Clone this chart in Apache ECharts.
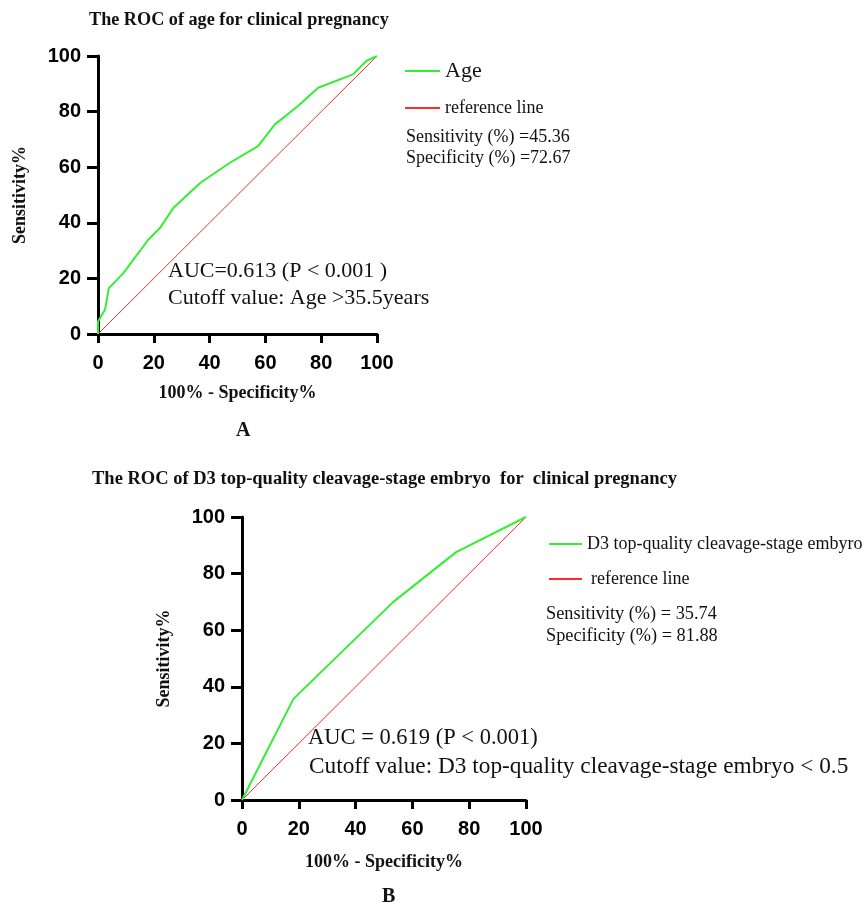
<!DOCTYPE html>
<html>
<head>
<meta charset="utf-8">
<script src="https://cdn.jsdelivr.net/npm/echarts@6/dist/echarts.min.js"></script>
<style>
  html, body { margin: 0; padding: 0; background: #fff; }
  #chart { width: 867px; height: 904px; }
</style>
</head>
<body>
<div id="chart"></div>
<script>
// ROC curve A: age (x = 100% - specificity, y = sensitivity)
const ageFpr = [0, 0, 2.5, 3.9, 9.1, 18, 22.2, 27, 36.6, 47.3, 57.4, 63.4, 71.7, 78.9, 91.4, 96.2, 100];
const ageSens = [0, 4.5, 8.7, 16.5, 21.9, 33.9, 38.1, 45.3, 54.3, 61.6, 67.6, 75.4, 82, 88.6, 93.4, 98.2, 100];

// ROC curve B: D3 top-quality cleavage-stage embryo
const d3Fpr = [0, 18.12, 53.3, 75.4, 100];
const d3Sens = [0, 35.74, 70, 87.6, 100];

// diagonal reference line
const refX = [0, 100];
const refY = [0, 100];

const serif = '"Liberation Serif", "Times New Roman", serif';
const sans = '"Liberation Sans", Arial, sans-serif';
const green = '#33ee33';
const red = '#ff2a2a';

const pairs = (xs, ys) => xs.map((x, i) => [x, ys[i]]);

function xAxisFor(gridIndex, gap) {
  return {
    gridIndex,
    type: 'value',
    min: 0, max: 100, interval: 20,
    name: '100% - Specificity%',
    nameLocation: 'middle',
    nameGap: gap,
    nameTextStyle: { fontFamily: serif, fontWeight: 'bold', fontSize: 18, color: '#111' },
    axisLine: { lineStyle: { color: '#000', width: 3 } },
    axisTick: { length: 9, lineStyle: { color: '#000', width: 3 } },
    axisLabel: { fontFamily: sans, fontWeight: 'bold', fontSize: 20, color: '#000', margin: 19 },
    splitLine: { show: false }
  };
}

function yAxisFor(gridIndex) {
  return {
    gridIndex,
    type: 'value',
    min: 0, max: 100, interval: 20,
    name: 'Sensitivity%',
    nameLocation: 'middle',
    nameGap: 69,
    nameTextStyle: { fontFamily: serif, fontWeight: 'bold', fontSize: 18, color: '#111' },
    axisLine: { show: true, lineStyle: { color: '#000', width: 3 } },
    axisTick: { show: true, length: 11, lineStyle: { color: '#000', width: 3 } },
    axisLabel: { fontFamily: sans, fontWeight: 'bold', fontSize: 20, color: '#000', margin: 17 },
    splitLine: { show: false }
  };
}

const chart = echarts.init(document.getElementById('chart'));

const option = {
  animation: false,
  backgroundColor: '#fff',
  title: [
    { text: 'The ROC of age for clinical pregnancy', left: 84, top: 6,
      textStyle: { fontFamily: serif, fontWeight: 'bold', fontSize: 18.2, color: '#111' } },
    { text: 'The ROC of D3 top-quality cleavage-stage embryo  for  clinical pregnancy', left: 87, top: 465,
      textStyle: { fontFamily: serif, fontWeight: 'bold', fontSize: 18.5, color: '#111' } },
    { text: 'A', left: 231, top: 416,
      textStyle: { fontFamily: serif, fontWeight: 'bold', fontSize: 20, color: '#111' } },
    { text: 'B', left: 377, top: 882,
      textStyle: { fontFamily: serif, fontWeight: 'bold', fontSize: 20, color: '#111' } }
  ],
  grid: [
    { left: 98, top: 56, width: 279, height: 278 },
    { left: 242, top: 517, width: 284, height: 283 }
  ],
  xAxis: [xAxisFor(0, 50), xAxisFor(1, 53)],
  yAxis: [yAxisFor(0), yAxisFor(1)],
  legend: [
    {
      orient: 'vertical', left: 400, top: 55, itemGap: 17,
      icon: 'rect', itemWidth: 35, itemHeight: 2,
      data: [
        { name: 'Age', textStyle: { fontFamily: serif, fontSize: 22, color: '#111' } },
        { name: 'reference line', textStyle: { fontFamily: serif, fontSize: 18, color: '#111' } }
      ]
    },
    {
      orient: 'vertical', left: 544, top: 530, itemGap: 17,
      icon: 'rect', itemWidth: 33, itemHeight: 2,
      data: [
        { name: 'D3 top-quality cleavage-stage embyro', textStyle: { fontFamily: serif, fontSize: 18, color: '#111' } },
        { name: 'reference line', textStyle: { fontFamily: serif, fontSize: 18, color: '#111', padding: [0, 0, 0, 4] } }
      ]
    }
  ],
  graphic: [
    { type: 'text', left: 406, top: 127,
      style: { text: 'Sensitivity (%) =45.36\nSpecificity (%) =72.67', font: '18px ' + serif, fill: '#111', lineHeight: 21 } },
    { type: 'text', left: 168, top: 258,
      style: { text: 'AUC=0.613 (P < 0.001 )\nCutoff value: Age >35.5years', font: '22px ' + serif, fill: '#111', lineHeight: 27 } },
    { type: 'text', left: 546, top: 603,
      style: { text: 'Sensitivity (%) = 35.74\nSpecificity (%) = 81.88', font: '18.3px ' + serif, fill: '#111', lineHeight: 22 } },
    { type: 'text', left: 308, top: 727,
      style: { text: 'AUC = 0.619 (P < 0.001)', font: '22.5px ' + serif, fill: '#111' } },
    { type: 'text', left: 309, top: 755,
      style: { text: 'Cutoff value: D3 top-quality cleavage-stage embryo < 0.5', font: '23.3px ' + serif, fill: '#111' } }
  ],
  series: [
    { name: 'reference line', type: 'line', xAxisIndex: 0, yAxisIndex: 0, data: pairs(refX, refY),
      showSymbol: false, lineStyle: { color: red, width: 1 }, itemStyle: { color: red }, z: 2 },
    { name: 'Age', type: 'line', xAxisIndex: 0, yAxisIndex: 0, data: pairs(ageFpr, ageSens),
      showSymbol: false, lineStyle: { color: green, width: 2 }, itemStyle: { color: green }, z: 3 },
    { name: 'reference line', type: 'line', xAxisIndex: 1, yAxisIndex: 1, data: pairs(refX, refY),
      showSymbol: false, lineStyle: { color: red, width: 1 }, itemStyle: { color: red }, z: 2 },
    { name: 'D3 top-quality cleavage-stage embyro', type: 'line', xAxisIndex: 1, yAxisIndex: 1, data: pairs(d3Fpr, d3Sens),
      showSymbol: false, lineStyle: { color: green, width: 2 }, itemStyle: { color: green }, z: 3 }
  ]
};

chart.setOption(option);
</script>
</body>
</html>
